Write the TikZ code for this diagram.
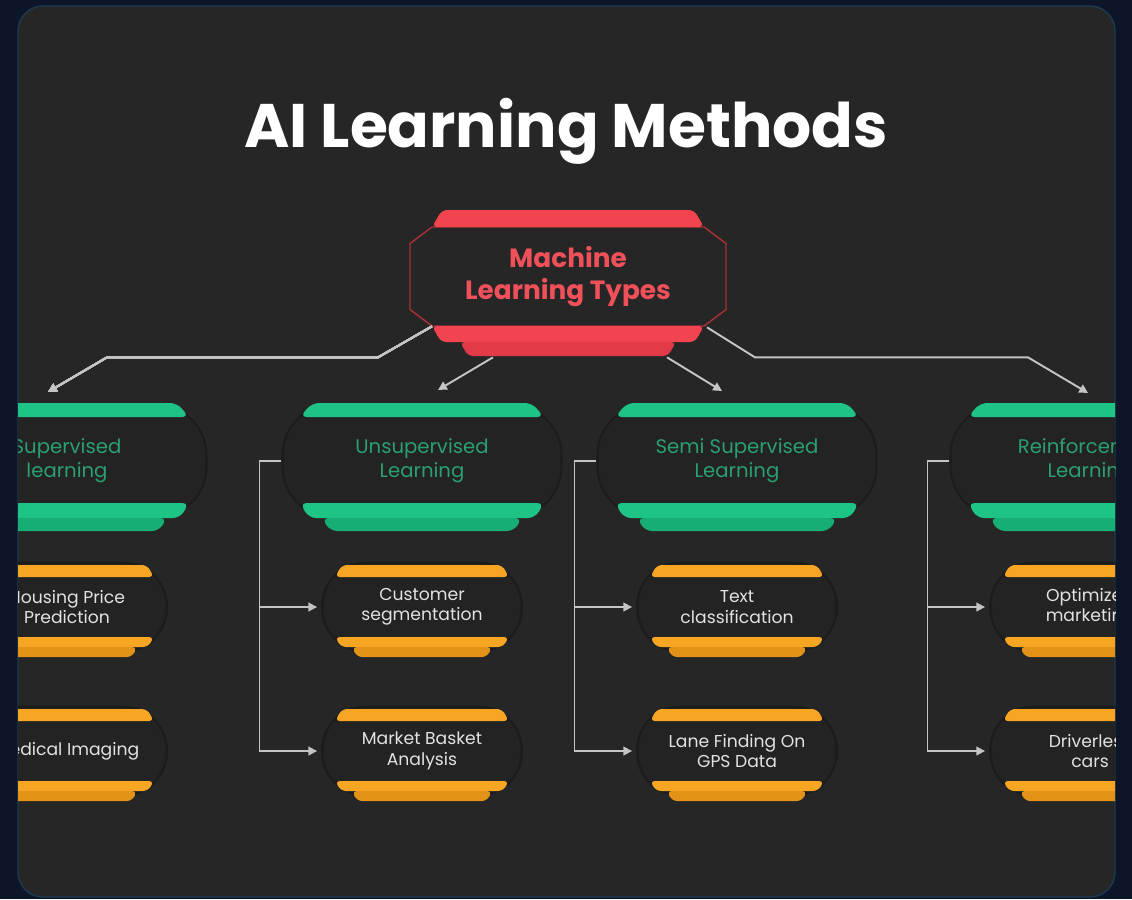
\documentclass[tikz,border=0pt]{standalone}
\usepackage{fontspec}
\setmainfont{Poppins}
\usetikzlibrary{arrows.meta}

\definecolor{navybg}{HTML}{0C1628}
\definecolor{cardbg}{HTML}{262626}
\definecolor{cardrim}{HTML}{1E3A52}
\definecolor{bodybg}{HTML}{232323}
\definecolor{bodyrim}{HTML}{1C1C1C}
\definecolor{mlred}{HTML}{F2444F}
\definecolor{mlredlow}{HTML}{E23A46}
\definecolor{mlredtxt}{HTML}{F0505A}
\definecolor{mlgreen}{HTML}{1EC386}
\definecolor{mlgreenlow}{HTML}{17AE76}
\definecolor{mlgreentxt}{HTML}{2A9F70}
\definecolor{mlorange}{HTML}{F6A623}
\definecolor{mlorangelow}{HTML}{E39418}
\definecolor{arrowgray}{HTML}{C4C4C4}
\definecolor{labelgray}{HTML}{E2E2E2}

% bands of the red root box
\newcommand{\redbands}[1]{%
\begin{scope}[shift={(#1.center)}]
  \draw[mlred!70!black, line width=0.8pt] (-136,-49.5) -- (136,-49.5) -- (158,-33) -- (158,33) -- (136,49.5) -- (-136,49.5) -- (-158,33) -- (-158,-33) -- cycle;
  \fill[mlred, rounded corners=3] (-136,-49.5) -- (-126,-66.5) -- (126,-66.5) -- (136,-49.5) -- cycle;
  \fill[mlred, rounded corners=3] (-136,49.5) -- (136,49.5) -- (127,65.5) -- (-127,65.5) -- cycle;
  \fill[mlredlow, rounded corners=3] (-108,65.5) -- (108,65.5) -- (100,79.5) -- (-100,79.5) -- cycle;
\end{scope}}

% bands of a green type box
\newcommand{\greenbands}[1]{%
\begin{scope}[shift={(#1.center)}]
  \fill[mlgreen, rounded corners=4] (-122,-44) -- (-110,-58) -- (110,-58) -- (122,-44) -- cycle;
  \fill[mlgreen, rounded corners=4] (-122,42) -- (122,42) -- (113,57) -- (-113,57) -- cycle;
  \fill[mlgreenlow, rounded corners=4] (-100,57) -- (100,57) -- (92,70) -- (-92,70) -- cycle;
\end{scope}}

% bands of an orange example box
\newcommand{\orangebands}[1]{%
\begin{scope}[shift={(#1.center)}]
  \fill[mlorange, rounded corners=3] (-87,-30) -- (-80,-42) -- (80,-42) -- (87,-30) -- cycle;
  \fill[mlorange, rounded corners=3] (-87,30) -- (87,30) -- (81,40) -- (-81,40) -- cycle;
  \fill[mlorangelow, rounded corners=3] (-70,40) -- (70,40) -- (65,50) -- (-65,50) -- cycle;
\end{scope}}

\begin{document}
\begin{tikzpicture}[x=0.02cm, y=-0.02cm,
  rootbox/.style={minimum width=6.32cm, minimum height=1.98cm, inner sep=0pt, align=center,
    text=mlredtxt, font=\fontsize{15}{18}\selectfont\bfseries},
  typebox/.style={rectangle, rounded corners=1cm, fill=bodybg, draw=bodyrim, line width=1.2pt,
    minimum width=5.58cm, minimum height=2.24cm, inner sep=0pt, align=center,
    text=mlgreentxt, font=\fontsize{11.2}{13.6}\selectfont},
  casebox/.style={rectangle, rounded corners=0.85cm, fill=bodybg, draw=bodyrim, line width=1.2pt,
    minimum width=3.98cm, minimum height=1.76cm, inner sep=0pt, align=center,
    text=labelgray, font=\fontsize{9.8}{11.6}\selectfont},
  arr/.style={draw=arrowgray, line width=1.1pt, -{Triangle[length=5pt,width=5pt]}},
  brk/.style={arr, shorten >=2.5pt}]
\useasboundingbox (0,0) rectangle (1132,899);
\fill[navybg] (0,0) rectangle (1132,899);
%card
\fill[cardbg, rounded corners=0.5cm] (18,6) rectangle (1115,897);
\draw[cardrim, line width=0.8pt, rounded corners=0.5cm] (18,6) rectangle (1115,897);
\begin{scope}
\clip[rounded corners=0.5cm] (18,6) rectangle (1115,897);
\node[text=white, font=\fontsize{35}{40}\selectfont\bfseries] (title) at (566,131) {AI Learning Methods};
%root
\node[rootbox] (mlt) at (568,276.5) {Machine\\Learning Types};
\redbands{mlt}
%types
\foreach \nm/\cx/\txt in {sup/67/{Supervised\\learning}, uns/422/{Unsupervised\\Learning},
    sem/737/{Semi Supervised\\Learning}, rei/1090/{Reinforcement\\Learning}}
  \node[typebox] (\nm) at (\cx,461) {\txt};
\foreach \nm in {sup,uns,sem,rei}
  \greenbands{\nm}
%examples
\foreach \nm/\cx/\cy/\txt in {hpp/67/607/{Housing Price\\Prediction}, mim/67/751/{Medical Imaging},
    cus/422/607/{Customer\\segmentation}, mba/422/751/{Market Basket\\Analysis},
    txc/737/607/{Text\\classification}, lfg/737/751/{Lane Finding On\\GPS Data},
    opm/1090/607/{Optimized\\marketing}, drc/1090/751/{Driverless\\cars}}
  \node[casebox] (\nm) at (\cx,\cy) {\txt};
\foreach \nm in {hpp,mim,cus,mba,txc,lfg,opm,drc}
  \orangebands{\nm}
%root to types
\draw[arr] ([shift={(-136,0)}]mlt.south) -- ++(-54,31) -- ++(-271,0) -- ([shift={(-19,-12)}]sup.north);
\draw[arr] ([shift={(-75,31)}]mlt.south) -- ([shift={(16,-14)}]uns.north);
\draw[arr] ([shift={(99,31)}]mlt.south) -- ([shift={(-15,-13)}]sem.north);
\draw[arr] ([shift={(139,1)}]mlt.south) -- ++(48,30) -- ++(273,0) -- ([shift={(-2,-11)}]rei.north);
%types to examples
\foreach \p/\a/\b in {sup/hpp/mim, uns/cus/mba, sem/txc/lfg, rei/opm/drc}{
  \draw[brk] (\p.west) -- ++(-22,0) |- (\a.west);
  \draw[brk] (\p.west) -- ++(-22,0) |- (\b.west);
}
\end{scope}
\end{tikzpicture}
\end{document}
